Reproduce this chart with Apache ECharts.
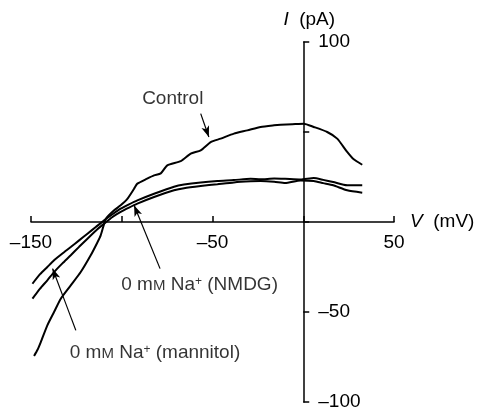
<!DOCTYPE html>
<html>
<head>
<meta charset="utf-8">
<script src="https://cdn.jsdelivr.net/npm/echarts@6/dist/echarts.min.js"></script>
<style>
  html, body { margin: 0; padding: 0; background: #fff; }
  #main { width: 479px; height: 416px; }
</style>
</head>
<body>
<div id="main"></div>
<script>
// I-V curves, values: [V (mV), I (pA)]
var control = [
  [-148.3, -74.4], [-146.4, -71.0], [-144.6, -66.7], [-141.0, -57.4], [-137.3, -50.0],
  [-133.6, -42.6], [-128.1, -35.2], [-122.6, -27.8], [-117.1, -18.5], [-113.5, -11.5],
  [-111.6, -7.4], [-109.7, -0.9], [-108.8, 1.8], [-104.2, 6.5], [-100.6, 9.3],
  [-96.9, 12.9], [-93.2, 18.5], [-91.4, 21.3], [-86.0, 24.1], [-82.2, 25.9],
  [-78.5, 27.0], [-74.9, 31.5], [-67.5, 33.8], [-62.0, 38.0], [-56.5, 39.8],
  [-51.0, 44.4], [-45.5, 46.3], [-38.2, 49.1], [-30.8, 50.9], [-23.5, 52.8],
  [-16.1, 53.7], [-12.5, 54.0], [-6.0, 54.3], [0.3, 54.6], [5.8, 52.8],
  [13.2, 50.0], [18.7, 46.3], [24.2, 38.9], [27.8, 34.8], [32.5, 31.8]
];
var mannitol = [
  [-149.2, -34.3], [-145.0, -29.0], [-141.0, -25.0], [-137.3, -21.3], [-132.7, -17.5],
  [-128.1, -13.9], [-123.5, -10.2], [-118.9, -6.5], [-114.3, -2.8], [-109.7, 0.9],
  [-105.1, 4.3], [-100.6, 7.4], [-96.0, 9.8], [-91.4, 12.0], [-82.2, 15.7],
  [-71.2, 19.6], [-65.7, 20.8], [-56.5, 22.0], [-47.3, 22.8], [-38.2, 23.3],
  [-29.0, 24.0], [-23.5, 23.7], [-16.0, 24.2], [-10.0, 24.0], [-1.5, 23.6],
  [5.8, 24.4], [11.0, 23.4], [16.5, 22.2], [24.2, 20.4], [32.5, 20.4]
];
var nmdg = [
  [-149.2, -42.6], [-145.0, -37.0], [-141.0, -32.4], [-137.3, -27.8], [-132.7, -23.0],
  [-128.1, -18.5], [-123.5, -13.8], [-118.9, -9.3], [-114.3, -4.8], [-109.7, -0.9],
  [-105.1, 2.8], [-100.6, 5.6], [-96.0, 8.0], [-91.4, 10.2], [-82.2, 13.9],
  [-71.2, 17.6], [-65.7, 18.8], [-56.5, 20.0], [-47.3, 21.0], [-38.2, 22.0],
  [-29.0, 22.6], [-23.5, 22.8], [-16.0, 22.4], [-10.0, 21.7], [-1.5, 23.1],
  [5.8, 22.8], [11.0, 21.6], [16.5, 20.4], [24.2, 17.6], [32.5, 16.3]
];

// tick labels that are printed
var xLabels = ['-150', '-50', '50'];
var yLabels = ['100', '-50', '-100'];

// annotation texts and arrows (in data coordinates)
var notes = [
  [-71.9, 68.3, 'Control'],
  [-57.1, -35.0, '0 m{sc|M} Na{sup|+} (NMDG)'],
  [-81.7, -72.8, '0 m{sc|M} Na{sup|+} (mannitol)']
];
var arrows = [
  [[-56.5, 60.2], [-52.0, 47.2]],
  [[-78.9, -25.9], [-93.2, 9.3]],
  [[-125.3, -60.2], [-138.1, -25.9]]
];

var xMin = -150, xMax = 50, yMin = -100, yMax = 100;
var gridBox = { left: 31, right: 85, top: 42, bottom: 14 };
var gridW = 479 - gridBox.left - gridBox.right;
var gridH = 416 - gridBox.top - gridBox.bottom;
// the axes cross at the origin, so pull them in from the grid edges
var xAxisOffset = -gridH * (0 - yMin) / (yMax - yMin);
var yAxisOffset = -gridW * (0 - xMin) / (xMax - xMin);

var font = 'Liberation Sans, Arial, Helvetica, sans-serif';
var fs = 19;
var dash = function (v) { return String(v).replace('-', '\u2013'); };

var lineSeries = function (name, data) {
  return {
    name: name,
    type: 'line',
    data: data,
    showSymbol: false,
    smooth: 0.2,
    lineStyle: { color: '#000', width: 2 },
    itemStyle: { color: '#000' },
    silent: true
  };
};

var option = {
  animation: false,
  backgroundColor: '#fff',
  grid: {
    left: gridBox.left, right: gridBox.right, top: gridBox.top, bottom: gridBox.bottom,
    containLabel: false, outerBoundsMode: 'none'
  },
  xAxis: {
    type: 'value',
    min: xMin,
    max: xMax,
    interval: 50,
    position: 'bottom',
    offset: xAxisOffset,
    splitLine: { show: false },
    axisLine: { onZero: false, lineStyle: { color: '#000', width: 1.5 } },
    axisTick: { inside: true, length: 6, lineStyle: { color: '#000', width: 1.5 } },
    axisLabel: {
      color: '#000', fontFamily: font, fontSize: fs, margin: 11,
      formatter: function (v) { return xLabels.indexOf(String(v)) >= 0 ? dash(v) : ''; }
    },
    name: '{i|V}  (mV)',
    nameLocation: 'end',
    nameGap: 16,
    nameTextStyle: {
      color: '#000', fontFamily: font, fontSize: fs,
      rich: { i: { fontStyle: 'italic', fontSize: fs, fontFamily: font, color: '#000' } }
    }
  },
  yAxis: {
    type: 'value',
    min: yMin,
    max: yMax,
    interval: 50,
    position: 'left',
    offset: yAxisOffset,
    splitLine: { show: false },
    axisLine: { onZero: false, lineStyle: { color: '#000', width: 1.5 } },
    axisTick: { inside: true, length: 6, lineStyle: { color: '#000', width: 1.5 } },
    axisLabel: {
      inside: true, color: '#000', fontFamily: font, fontSize: fs, margin: 15,
      padding: [8, 0, 0, 0],
      formatter: function (v) { return yLabels.indexOf(String(v)) >= 0 ? dash(v) : ''; }
    },
    name: '{i|I}  (pA)',
    nameLocation: 'end',
    nameGap: 13,
    nameTextStyle: {
      color: '#000', fontFamily: font, fontSize: fs, padding: [0, 0, 0, 12],
      rich: { i: { fontStyle: 'italic', fontSize: fs, fontFamily: font, color: '#000' } }
    }
  },
  series: [
    lineSeries('Control', control),
    lineSeries('0 mM Na+ (mannitol)', mannitol),
    lineSeries('0 mM Na+ (NMDG)', nmdg),
    {
      name: 'notes',
      type: 'scatter',
      data: notes,
      symbolSize: 1,
      itemStyle: { color: 'rgba(0,0,0,0)' },
      silent: true,
      label: {
        show: true,
        position: 'inside',
        color: '#000',
        fontFamily: font,
        fontSize: fs,
        formatter: function (p) { return p.data[2]; },
        rich: {
          sc: { fontSize: 15, fontFamily: font, color: '#000', verticalAlign: 'bottom', padding: [0, 0, 1, 0] },
          sup: { fontSize: 12, fontFamily: font, color: '#000', verticalAlign: 'top' }
        }
      },
      markLine: {
        silent: true,
        symbol: ['none', 'arrow'],
        symbolSize: [6, 11],
        label: { show: false },
        lineStyle: { color: '#000', width: 1.2, type: 'solid' },
        data: arrows.map(function (a) { return [{ coord: a[0] }, { coord: a[1] }]; })
      }
    }
  ]
};

var myChart = echarts.init(document.getElementById('main'));
myChart.setOption(option);
</script>
</body>
</html>
